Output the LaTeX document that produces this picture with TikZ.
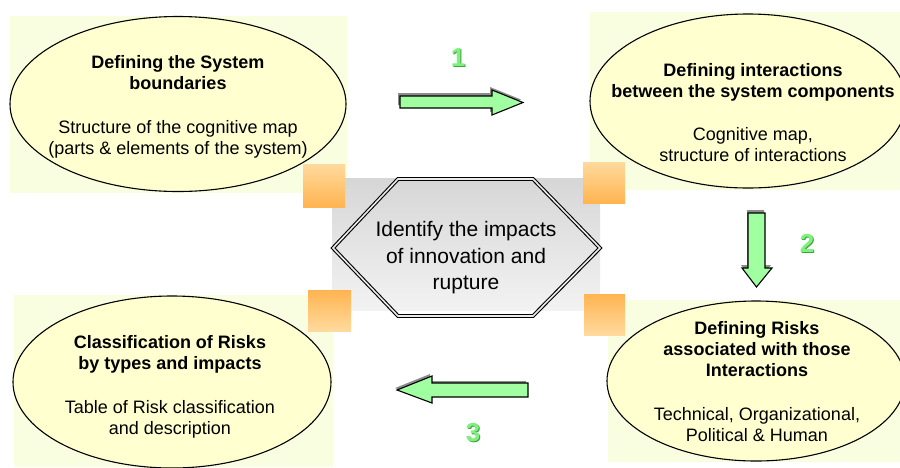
\documentclass[tikz,border=0pt]{standalone}
\usepackage{fontspec}
\setmainfont{Liberation Sans}
\usetikzlibrary{shapes.geometric}
\definecolor{bgyel}{RGB}{250,254,224}
\definecolor{ellyel}{RGB}{255,255,208}
\definecolor{orlight}{RGB}{255,218,158}
\definecolor{ordark}{RGB}{255,180,80}
\definecolor{arrgreen}{RGB}{160,255,160}
\definecolor{numgreen}{RGB}{125,240,125}
\definecolor{numshadow}{RGB}{70,160,70}
\tikzset{
  yelbg/.style={fill=bgyel, draw=none},
  ell/.style={draw=black, line width=1.1pt, fill=ellyel},
  sqdown/.style={top color=orlight, bottom color=ordark, draw=none},
  squp/.style={top color=ordark, bottom color=orlight, draw=none},
  blockarrow/.style={fill=arrgreen, draw=black, line width=1.1pt, line join=miter},
  arrshadow/.style={fill=black!45, draw=none},
  numlabel/.style={font=\fontsize{26}{28}\selectfont\bfseries, text=numgreen},
  numshad/.style={font=\fontsize{26}{28}\selectfont\bfseries, text=numshadow},
  txt/.style={align=center, font=\fontsize{18}{21}\selectfont},
}
\begin{document}
\begin{tikzpicture}[x=1pt,y=-1pt]
\useasboundingbox (0,0) rectangle (900,467);
% backgrounds
\fill[yelbg] (10,16) rectangle (347,193);
\fill[yelbg] (590,12) rectangle (900,190);
\fill[yelbg] (14,295) rectangle (333,467);
\fill[yelbg] (608,300) rectangle (900,462);
\shade[top color=black!16, bottom color=black!5] (332,178) rectangle (600,310);
% orange squares
\fill[sqdown] (303,164) rectangle (345,207);
\fill[sqdown] (583,162) rectangle (625,203);
\fill[squp] (308,290) rectangle (351,331);
\fill[squp] (584,294) rectangle (625,335);
% ellipses
\node[ell, ellipse, minimum width=336, minimum height=175, inner sep=0] (e1) at (178,104) {};
\node[ell, ellipse, minimum width=316, minimum height=174, inner sep=0] (e2) at (748,101) {};
\node[ell, ellipse, minimum width=318, minimum height=172, inner sep=0] (e3) at (172,382) {};
\node[ell, ellipse, minimum width=298, minimum height=160, inner sep=0] (e4) at (756,381) {};
% texts
\node[txt] (t1a) at (178,73) {\textbf{Defining the System}\\\textbf{boundaries}};
\node[txt] (t1b) at (178,139) {Structure of the cognitive map\\(parts \& elements of the system)};
\node[txt] (t2a) at (753,82) {\textbf{Defining interactions}\\\textbf{between the system components}};
\node[txt] (t2b) at (753,145) {Cognitive map,\\structure of interactions};
\node[txt] (t3a) at (170,354) {\textbf{Classification of Risks}\\\textbf{by types and impacts}};
\node[txt] (t3b) at (170,419) {Table of Risk classification\\and description};
\node[txt] (t4a) at (757,349) {\textbf{Defining Risks}\\\textbf{associated with those}\\\textbf{Interactions}};
\node[txt] (t4b) at (757,425) {Technical, Organizational,\\Political \& Human};
% hexagon
\draw[double=black!8, double distance=1.6pt, line width=1.1pt, line join=miter]
  (333,248) -- (398,179) -- (533,179) -- (600,248) -- (533,316) -- (398,316) -- cycle;
\node[align=center, font=\fontsize{21}{26.5}\selectfont] (hex) at (466,258) {Identify the impacts\\of innovation and\\rupture};
% arrow 1 (right)
\fill[arrshadow] (398,93) -- (490,93) -- (490,87) -- (521,99.5) -- (490,112) -- (490,105) -- (398,105) -- cycle;
\draw[blockarrow] (400,96) -- (492,96) -- (492,90) -- (523,102.5) -- (492,115) -- (492,108) -- (400,108) -- cycle;
\node[numshad] (n1s) at (459,59) {1};
\node[numlabel] (n1) at (458,58) {1};
% arrow 2 (down)
\fill[arrshadow] (747,210) -- (764,210) -- (764,265) -- (771,265) -- (756.5,284) -- (741,265) -- (747,265) -- cycle;
\draw[blockarrow] (748,213) -- (765,213) -- (765,268) -- (772,268) -- (756.5,287) -- (742,268) -- (748,268) -- cycle;
\node[numshad] (n2s) at (808,244) {2};
\node[numlabel] (n2) at (807,243) {2};
% arrow 3 (left)
\fill[arrshadow] (395,388) -- (430,374) -- (430,381) -- (526,381) -- (526,395) -- (430,395) -- (430,401) -- cycle;
\draw[blockarrow] (397,390) -- (432,376) -- (432,383) -- (528,383) -- (528,397) -- (432,397) -- (432,403) -- cycle;
\node[numshad] (n3s) at (474,434) {3};
\node[numlabel] (n3) at (473,433) {3};
\end{tikzpicture}
\end{document}
